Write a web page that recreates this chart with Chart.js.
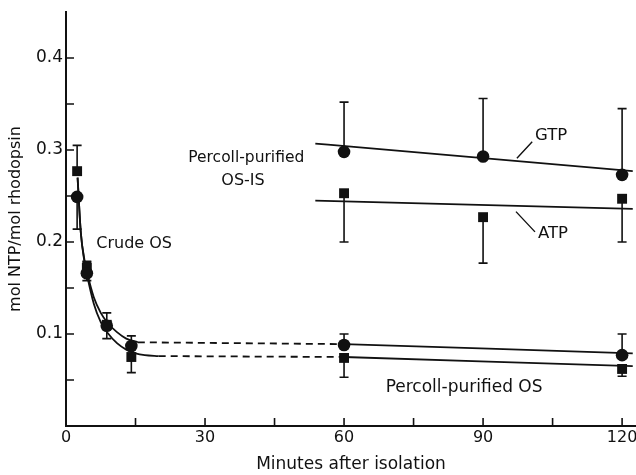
<!DOCTYPE html>
<html><head><meta charset="utf-8">
<script src="https://cdn.jsdelivr.net/npm/chart.js@4"></script>
<style>html,body{margin:0;padding:0;background:#fff;}</style>
</head><body>
<canvas id="c" width="636" height="475" style="width:636px;height:475px;display:block"></canvas>
<script>
// ---- data (minutes after isolation, mol NTP / mol rhodopsin) ----
const crudeX      = [2.4, 4.5, 8.8, 14.1];
const crudeGTP    = [0.249, 0.166, 0.109, 0.087];
const crudeGTPHi  = [null, 0.178, 0.123, 0.098];
const crudeGTPLo  = [0.214, 0.158, 0.095, null];
const crudeATP    = [0.277, 0.172, 0.110, 0.075];
const crudeATPHi  = [0.305, 0.179, null, null];
const crudeATPLo  = [null, null, null, 0.058];

const osX         = [60, 120];
const osGTP       = [0.088, 0.077];
const osGTPHi     = [0.100, 0.100];
const osATP       = [0.074, 0.062];
const osATPLo     = [0.053, 0.054];

const osisX       = [60, 90, 120];
const osisGTP     = [0.298, 0.293, 0.273];
const osisGTPHi   = [0.352, 0.356, 0.345];
const osisATP     = [0.253, 0.227, 0.247];
const osisATPLo   = [0.200, 0.177, 0.200];

// fitted curves
const curveGTPX   = [2.5, 3.2, 4.0, 4.5, 6, 7.5, 9, 11, 13, 15.5];
const curveGTPY   = [0.27, 0.21, 0.18, 0.168, 0.14, 0.123, 0.112, 0.102, 0.095, 0.091];
const curveATPX   = [2.5, 3.2, 4.0, 4.5, 6, 7.5, 9, 11, 13, 15, 17, 20];
const curveATPY   = [0.27, 0.21, 0.178, 0.165, 0.133, 0.113, 0.101, 0.090, 0.083, 0.079, 0.077, 0.076];
const dashGTPX    = [15.5, 60];
const dashGTPY    = [0.091, 0.089];
const dashATPX    = [20, 60];
const dashATPY    = [0.076, 0.075];
const osLineX     = [60, 122.3];
const osLineGTP   = [0.089, 0.079];
const osLineATP   = [0.075, 0.065];
const osisLineX   = [53.8, 122.3];
const osisLineGTP = [0.307, 0.277];
const osisLineATP = [0.245, 0.236];

const xTicks = [0, 15, 30, 45, 60, 75, 90, 105, 120];
const xTickLabels = ['0', '', '30', '', '60', '', '90', '', '120'];
const yTicks = [0.05, 0.1, 0.15, 0.2, 0.25, 0.3, 0.35, 0.4];
const yTickLabels = ['', '0.1', '', '0.2', '', '0.3', '', '0.4'];

const xTitle = 'Minutes after isolation';
const yTitle = 'mol NTP/mol rhodopsin';

// annotation texts (data coordinates)
const notes = [
  {text: 'Crude OS', x: 14.7, y: 0.198, size: 16},
  {text: 'Percoll-purified', x: 38.9, y: 0.291, size: 15.5},
  {text: 'OS-IS', x: 38.2, y: 0.267, size: 16},
  {text: 'GTP', x: 104.7, y: 0.316, size: 16.5},
  {text: 'ATP', x: 105.1, y: 0.209, size: 16.5},
  {text: 'Percoll-purified OS', x: 85.9, y: 0.042, size: 17}
];
const leaders = [
  {x1: 100.6, y1: 0.309, x2: 97.3, y2: 0.291},
  {x1: 97.1, y1: 0.233, x2: 101.2, y2: 0.211}
];

const INK = '#111';
const FONT = '"DejaVu Sans", sans-serif';

const pts = (xs, ys) => xs.map((x, i) => ({x, y: ys[i]}));

function pointSet(xs, ys, style, hi, lo) {
  return {
    type: 'scatter', data: pts(xs, ys), showLine: false,
    pointStyle: style, pointRadius: style === 'rect' ? 7 : 6.3,
    backgroundColor: INK, borderColor: INK, borderWidth: 0,
    errHi: hi || null, errLo: lo || null, order: 0
  };
}
function lineSet(xs, ys, dash) {
  return {
    type: 'line', data: pts(xs, ys), showLine: true, pointRadius: 0,
    borderColor: INK, borderWidth: 1.8, borderDash: dash || [],
    cubicInterpolationMode: 'monotone', fill: false, order: 1
  };
}

const errorBars = {
  id: 'errorBars',
  beforeDatasetsDraw(chart) {
    const ctx = chart.ctx, xs = chart.scales.x, ys = chart.scales.y;
    ctx.save();
    ctx.strokeStyle = INK; ctx.lineWidth = 1.6;
    chart.data.datasets.forEach(ds => {
      if (!ds.errHi && !ds.errLo) return;
      ds.data.forEach((p, i) => {
        const px = xs.getPixelForValue(p.x), py = ys.getPixelForValue(p.y);
        [ds.errHi && ds.errHi[i], ds.errLo && ds.errLo[i]].forEach(v => {
          if (v == null) return;
          const ey = ys.getPixelForValue(v);
          ctx.beginPath();
          ctx.moveTo(px, py); ctx.lineTo(px, ey);
          ctx.moveTo(px - 4.5, ey); ctx.lineTo(px + 4.5, ey);
          ctx.stroke();
        });
      });
    });
    ctx.restore();
  }
};

const innerTicks = {
  id: 'innerTicks',
  afterDraw(chart) {
    const ctx = chart.ctx, xs = chart.scales.x, ys = chart.scales.y, a = chart.chartArea;
    ctx.save();
    ctx.strokeStyle = INK; ctx.lineWidth = 1.6;
    ctx.beginPath();
    xTicks.forEach(v => {
      if (v === 0) return;
      const px = xs.getPixelForValue(v);
      ctx.moveTo(px, a.bottom); ctx.lineTo(px, a.bottom - 8);
    });
    yTicks.forEach(v => {
      const py = ys.getPixelForValue(v);
      ctx.moveTo(a.left, py); ctx.lineTo(a.left + 8, py);
    });
    ctx.stroke();
    // notes
    ctx.fillStyle = INK;
    ctx.textAlign = 'center'; ctx.textBaseline = 'middle';
    notes.forEach(n => {
      ctx.font = n.size + 'px ' + FONT;
      ctx.fillText(n.text, xs.getPixelForValue(n.x), ys.getPixelForValue(n.y));
    });
    ctx.lineWidth = 1.4;
    ctx.beginPath();
    leaders.forEach(l => {
      ctx.moveTo(xs.getPixelForValue(l.x1), ys.getPixelForValue(l.y1));
      ctx.lineTo(xs.getPixelForValue(l.x2), ys.getPixelForValue(l.y2));
    });
    ctx.stroke();
    ctx.restore();
  }
};

new Chart(document.getElementById('c'), {
  data: {
    datasets: [
      pointSet(crudeX, crudeGTP, 'circle', crudeGTPHi, crudeGTPLo),
      pointSet(crudeX, crudeATP, 'rect', crudeATPHi, crudeATPLo),
      pointSet(osX, osGTP, 'circle', osGTPHi, null),
      pointSet(osX, osATP, 'rect', null, osATPLo),
      pointSet(osisX, osisGTP, 'circle', osisGTPHi, null),
      pointSet(osisX, osisATP, 'rect', null, osisATPLo),
      lineSet(curveGTPX, curveGTPY),
      lineSet(curveATPX, curveATPY),
      lineSet(dashGTPX, dashGTPY, [7, 5]),
      lineSet(dashATPX, dashATPY, [7, 5]),
      lineSet(osLineX, osLineGTP),
      lineSet(osLineX, osLineATP),
      lineSet(osisLineX, osisLineGTP),
      lineSet(osisLineX, osisLineATP)
    ]
  },
  options: {
    responsive: false, animation: false, devicePixelRatio: 1,
    layout: {autoPadding: false, padding: {top: 12, right: 0, left: 0, bottom: 0}},
    plugins: {legend: {display: false}, tooltip: {enabled: false}},
    scales: {
      x: {
        type: 'linear', min: 0, max: 123,
        afterFit(s) { s.height = 49; s.paddingRight = 0; s.paddingLeft = 0; },
        afterBuildTicks(s) { s.ticks = xTicks.map(v => ({value: v})); },
        grid: {drawOnChartArea: false, drawTicks: false},
        border: {color: INK, width: 2},
        ticks: {color: INK, font: {family: FONT, size: 16}, padding: 2, maxRotation: 0, autoSkip: false,
          callback: (v) => xTickLabels[xTicks.indexOf(v)] || ''},
        title: {display: true, text: xTitle, color: INK, font: {family: FONT, size: 17}, padding: {top: 0, bottom: 0}}
      },
      y: {
        type: 'linear', min: 0, max: 0.45,
        afterFit(s) { s.width = 66; s.paddingTop = 0; s.paddingBottom = 0; },
        afterBuildTicks(s) { s.ticks = yTicks.map(v => ({value: v})); },
        grid: {drawOnChartArea: false, drawTicks: false},
        border: {color: INK, width: 2},
        ticks: {color: INK, font: {family: FONT, size: 17}, padding: 3, autoSkip: false,
          callback: (v) => { const i = yTicks.findIndex(t => Math.abs(t - v) < 1e-9); return i >= 0 ? yTickLabels[i] : ''; }},
        title: {display: true, text: yTitle, color: INK, font: {family: FONT, size: 16}, padding: {top: 6, bottom: 0}}
      }
    }
  },
  plugins: [errorBars, innerTicks]
});
</script>
</body></html>
